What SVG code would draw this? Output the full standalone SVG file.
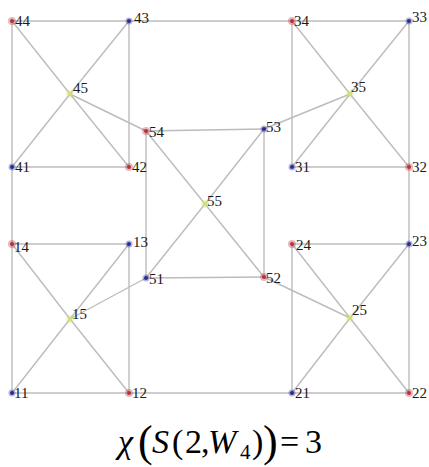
<svg xmlns="http://www.w3.org/2000/svg" width="429" height="467" viewBox="0 0 429 467">
<style>
.e{stroke:#bcbcbc;stroke-width:1.4;fill:none}
.r{fill:#b8303c}
.b{fill:#2a2a9a}
.y{fill:#d6e06a}
.h{opacity:0.35}
.l{font-family:"Liberation Serif","Times New Roman",serif;font-size:15px;fill:#1a1a1a}
.c{font-family:"Liberation Serif","Times New Roman",serif;font-size:34px;fill:#000}
.i{font-style:italic}
</style>
<rect width="429" height="467" fill="#fff"/>
<g id="connectors" class="e">
<line x1="12" y1="21" x2="409" y2="21"/>
<line x1="12" y1="393" x2="409" y2="393"/>
<line x1="12" y1="21" x2="12" y2="393"/>
<line x1="409" y1="21" x2="409" y2="393"/>
<line x1="129" y1="21" x2="129" y2="167"/>
<line x1="12" y1="167" x2="129" y2="167"/>
<line x1="70" y1="94" x2="12" y2="21"/>
<line x1="70" y1="94" x2="129" y2="21"/>
<line x1="70" y1="94" x2="12" y2="167"/>
<line x1="70" y1="94" x2="129" y2="167"/>
<line x1="70" y1="94" x2="146" y2="131"/>
<line x1="292" y1="21" x2="292" y2="167"/>
<line x1="292" y1="167" x2="409" y2="167"/>
<line x1="350" y1="94" x2="292" y2="21"/>
<line x1="350" y1="94" x2="409" y2="21"/>
<line x1="350" y1="94" x2="292" y2="167"/>
<line x1="350" y1="94" x2="409" y2="167"/>
<line x1="350" y1="94" x2="264" y2="129"/>
<line x1="12" y1="244" x2="129" y2="244"/>
<line x1="129" y1="244" x2="129" y2="393"/>
<line x1="70" y1="319" x2="12" y2="244"/>
<line x1="70" y1="319" x2="129" y2="244"/>
<line x1="70" y1="319" x2="12" y2="393"/>
<line x1="70" y1="319" x2="129" y2="393"/>
<line x1="70" y1="319" x2="146" y2="278"/>
<line x1="292" y1="244" x2="409" y2="244"/>
<line x1="292" y1="244" x2="292" y2="393"/>
<line x1="350" y1="318" x2="292" y2="244"/>
<line x1="350" y1="318" x2="409" y2="244"/>
<line x1="350" y1="318" x2="292" y2="393"/>
<line x1="350" y1="318" x2="409" y2="393"/>
<line x1="350" y1="318" x2="264" y2="277"/>
<line x1="146" y1="131" x2="264" y2="129"/>
<line x1="264" y1="129" x2="264" y2="277"/>
<line x1="146" y1="278" x2="264" y2="277"/>
<line x1="146" y1="131" x2="146" y2="278"/>
<line x1="205" y1="204" x2="146" y2="131"/>
<line x1="205" y1="204" x2="264" y2="129"/>
<line x1="205" y1="204" x2="146" y2="278"/>
<line x1="205" y1="204" x2="264" y2="277"/>
</g>
<g id="n44"><circle class="r h" cx="12" cy="21" r="4"/><circle class="r" cx="12" cy="21" r="2"/><text class="l" x="15" y="26">44</text></g>
<g id="n43"><circle class="b h" cx="129" cy="21" r="3.5"/><circle class="b" cx="129" cy="21" r="2"/><text class="l" x="134" y="23">43</text></g>
<g id="n45"><circle class="y h" cx="70" cy="94" r="4"/><circle class="y" cx="70" cy="94" r="2"/><text class="l" x="73" y="93">45</text></g>
<g id="n41"><circle class="b h" cx="12" cy="167" r="3.5"/><circle class="b" cx="12" cy="167" r="2"/><text class="l" x="15" y="172">41</text></g>
<g id="n42"><circle class="r h" cx="129" cy="167" r="4"/><circle class="r" cx="129" cy="167" r="2"/><text class="l" x="132" y="172">42</text></g>
<g id="n54"><circle class="r h" cx="146" cy="131" r="4"/><circle class="r" cx="146" cy="131" r="2"/><text class="l" x="149" y="137">54</text></g>
<g id="n34"><circle class="r h" cx="292" cy="21" r="4"/><circle class="r" cx="292" cy="21" r="2"/><text class="l" x="294" y="26">34</text></g>
<g id="n33"><circle class="b h" cx="409" cy="21" r="3.5"/><circle class="b" cx="409" cy="21" r="2"/><text class="l" x="412" y="22">33</text></g>
<g id="n35"><circle class="y h" cx="350" cy="94" r="4"/><circle class="y" cx="350" cy="94" r="2"/><text class="l" x="351" y="92">35</text></g>
<g id="n31"><circle class="b h" cx="292" cy="167" r="3.5"/><circle class="b" cx="292" cy="167" r="2"/><text class="l" x="295" y="172">31</text></g>
<g id="n32"><circle class="r h" cx="409" cy="167" r="4"/><circle class="r" cx="409" cy="167" r="2"/><text class="l" x="412" y="172">32</text></g>
<g id="n53"><circle class="b h" cx="264" cy="129" r="3.5"/><circle class="b" cx="264" cy="129" r="2"/><text class="l" x="266" y="132">53</text></g>
<g id="n55"><circle class="y h" cx="205" cy="204" r="4"/><circle class="y" cx="205" cy="204" r="2"/><text class="l" x="207" y="206">55</text></g>
<g id="n51"><circle class="b h" cx="146" cy="278" r="3.5"/><circle class="b" cx="146" cy="278" r="2"/><text class="l" x="149" y="284">51</text></g>
<g id="n52"><circle class="r h" cx="264" cy="277" r="4"/><circle class="r" cx="264" cy="277" r="2"/><text class="l" x="266" y="283">52</text></g>
<g id="n14"><circle class="r h" cx="12" cy="244" r="4"/><circle class="r" cx="12" cy="244" r="2"/><text class="l" x="14" y="252">14</text></g>
<g id="n13"><circle class="b h" cx="129" cy="244" r="3.5"/><circle class="b" cx="129" cy="244" r="2"/><text class="l" x="133" y="247">13</text></g>
<g id="n15"><circle class="y h" cx="70" cy="319" r="4"/><circle class="y" cx="70" cy="319" r="2"/><text class="l" x="72" y="319">15</text></g>
<g id="n11"><circle class="b h" cx="12" cy="393" r="3.5"/><circle class="b" cx="12" cy="393" r="2"/><text class="l" x="14" y="398">11</text></g>
<g id="n12"><circle class="r h" cx="129" cy="393" r="4"/><circle class="r" cx="129" cy="393" r="2"/><text class="l" x="132" y="398">12</text></g>
<g id="n24"><circle class="r h" cx="292" cy="244" r="4"/><circle class="r" cx="292" cy="244" r="2"/><text class="l" x="296" y="250">24</text></g>
<g id="n23"><circle class="b h" cx="409" cy="244" r="3.5"/><circle class="b" cx="409" cy="244" r="2"/><text class="l" x="412" y="246">23</text></g>
<g id="n25"><circle class="y h" cx="350" cy="318" r="4"/><circle class="y" cx="350" cy="318" r="2"/><text class="l" x="352" y="315">25</text></g>
<g id="n21"><circle class="b h" cx="292" cy="393" r="3.5"/><circle class="b" cx="292" cy="393" r="2"/><text class="l" x="295" y="398">21</text></g>
<g id="n22"><circle class="r h" cx="409" cy="393" r="4"/><circle class="r" cx="409" cy="393" r="2"/><text class="l" x="412" y="398">22</text></g>
<g id="caption">
<text class="c" y="453"><tspan class="i" x="118">χ</tspan><tspan x="138" font-size="44" dy="3">(</tspan><tspan class="i" x="152" dy="-3">S</tspan><tspan x="172">(</tspan><tspan x="185">2</tspan><tspan x="201">,</tspan><tspan class="i" x="208">W</tspan><tspan x="240" font-size="21" dy="6">4</tspan><tspan x="252" dy="-6">)</tspan><tspan x="263" font-size="44" dy="3">)</tspan><tspan x="280" dy="-3">=</tspan><tspan x="305">3</tspan></text>
</g>
</svg>
